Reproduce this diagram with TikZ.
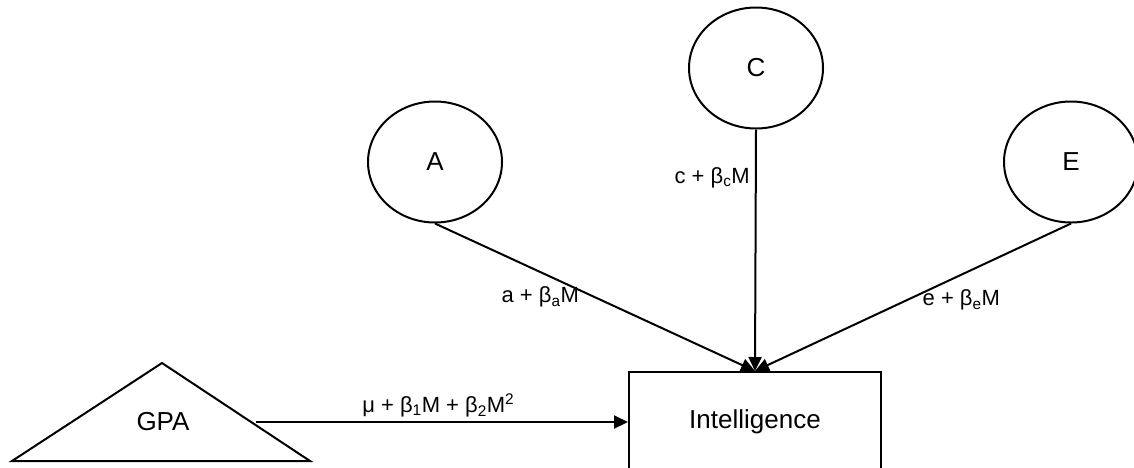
\documentclass[tikz,border=0pt]{standalone}
\usepackage{fontspec}
\setmainfont{Liberation Sans}
\usetikzlibrary{arrows.meta,shapes.geometric}
\tikzset{
  latent/.style={draw, line width=2pt, ellipse, minimum width=134pt, minimum height=121pt, inner sep=0pt, font=\fontsize{26}{30}\selectfont},
  observed/.style={draw, line width=2pt, rectangle, minimum width=252pt, minimum height=100pt, inner sep=0pt, font=\fontsize{26}{30}\selectfont},
  path/.style={line width=2pt, -{Triangle[length=14pt,width=13pt]}},
  coef/.style={font=\fontsize{22}{26}\selectfont, inner sep=2pt}
}
\begin{document}
\begin{tikzpicture}[x=1pt, y=-1pt]
    % Rahmen
    \useasboundingbox (0,0) rectangle (1134,467);
    % Latente Variablen
    \node[latent] (lvA) at (435,162) {A};
    \node[latent] (lvC) at (756,68) {C};
    \node[latent] (lvE) at (1071,162) {E};
    % Intelligence
    \node[observed] (int) at (755,422) {Intelligence};
    % GPA
    \draw[line width=2pt, line join=miter] (162,363) -- (310,461) -- (12,461) -- cycle;
    \node[font=\fontsize{26}{30}\selectfont] (gpa) at (163,422) {GPA};
    \coordinate (gpaEdge) at (256,422);
    % Pfade
    \draw[path] (lvA.south) -- node[coef, pos=0.5, anchor=east, xshift=-13pt] {a + β\textsubscript{a}M} (int.north);
    \draw[path] (lvC.south) -- node[coef, pos=0.2, anchor=east, xshift=-3pt] {c + β\textsubscript{c}M} (int.north);
    \draw[path] (lvE.south) -- node[coef, pos=0.52, anchor=west, xshift=13pt] {e + β\textsubscript{e}M} (int.north);
    \draw[path] (gpaEdge) -- node[coef, pos=0.49, anchor=south, yshift=2pt] {μ + β\textsubscript{1}M + β\textsubscript{2}M\textsuperscript{2}} (int.west);
\end{tikzpicture}
\end{document}
